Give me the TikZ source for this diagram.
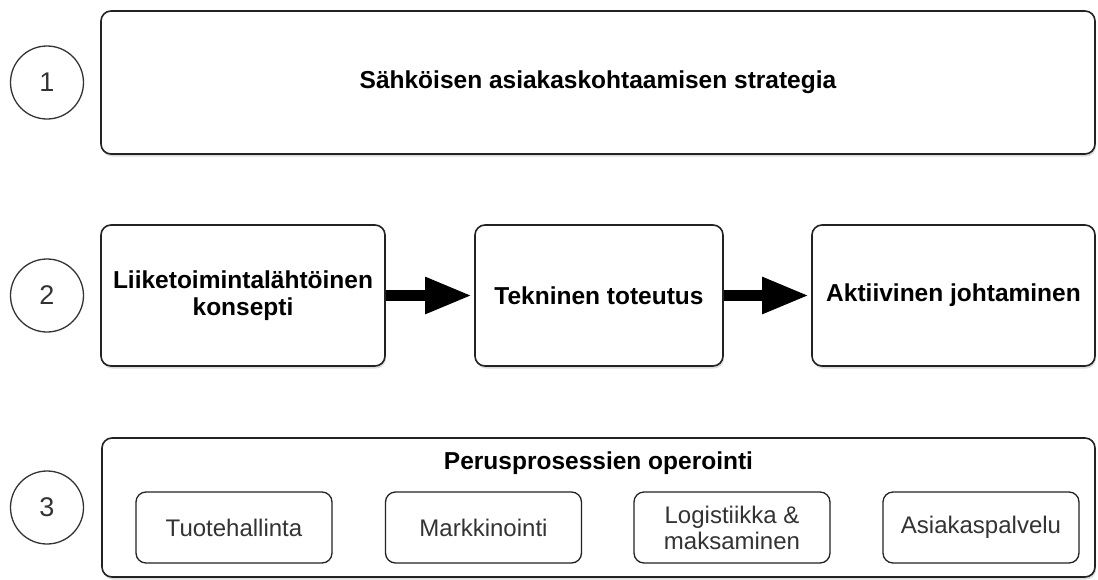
\documentclass[tikz,border=0pt]{standalone}
\usepackage{fontspec}
\setmainfont{Liberation Sans}
\usetikzlibrary{arrows.meta,shadows}
\definecolor{edge}{HTML}{222222}
\definecolor{txt}{HTML}{333333}
\begin{document}
\begin{tikzpicture}[x=1pt,y=-1pt,
  shadowed/.style={drop shadow={opacity=0.28, shadow xshift=1pt, shadow yshift=-2.5pt}},
  bigbox/.style={shadowed, draw=edge, line width=1.6pt, rounded corners=10pt, fill=white,
    inner sep=0pt, align=center, font=\bfseries\fontsize{24.5}{27}\selectfont},
  smallbox/.style={draw=edge, line width=1.3pt, rounded corners=10pt, fill=white,
    inner sep=0pt, align=center, minimum width=196pt, minimum height=71pt,
    text=txt, font=\fontsize{24}{26}\selectfont},
  numcircle/.style={circle, draw=txt, line width=1.3pt, minimum size=73pt, inner sep=0pt,
    text=txt, font=\fontsize{27}{30}\selectfont},
  bigarrow/.style={line width=11pt, draw=black, -{Triangle[length=47pt, width=34pt]}, shorten >=2pt}
]
\useasboundingbox (0,0) rectangle (1098,579);

% row 1
\node[numcircle] (c1) at (47,82.5) {1};
\node[bigbox, minimum width=994pt, minimum height=143pt] (s1) at (598,82.5)
  {Sähköisen asiakaskohtaamisen strategia};

% row 2
\node[numcircle] (c2) at (47,295.5) {2};
\node[bigbox, minimum width=284pt, minimum height=141pt] (a) at (243,295.5)
  {Liiketoimintalähtöinen\\konsepti};
\node[bigbox, minimum width=248pt, minimum height=141pt] (b) at (599,295.5)
  {Tekninen toteutus};
\node[bigbox, minimum width=283pt, minimum height=141pt] (c) at (953.5,295.5)
  {Aktiivinen johtaminen};
\draw[bigarrow] (a.east) -- (b.west);
\draw[bigarrow] (b.east) -- (c.west);

% row 3
\node[numcircle] (c3) at (47,507.5) {3};
\node[bigbox, minimum width=993pt, minimum height=139pt] (s3) at (598.5,507.5) {};
\node[anchor=base, font=\bfseries\fontsize{24.5}{27}\selectfont] (t3) at (598.5,469)
  {Perusprosessien operointi};
\node[smallbox] (p1) at (234,527.5) {Tuotehallinta};
\node[smallbox] (p2) at (483.5,527.5) {Markkinointi};
\node[smallbox] (p3) at (732,527.5) {Logistiikka \&\\maksaminen};
\node[smallbox] (p4) at (981,527.5) {Asiakaspalvelu};
\end{tikzpicture}
\end{document}
